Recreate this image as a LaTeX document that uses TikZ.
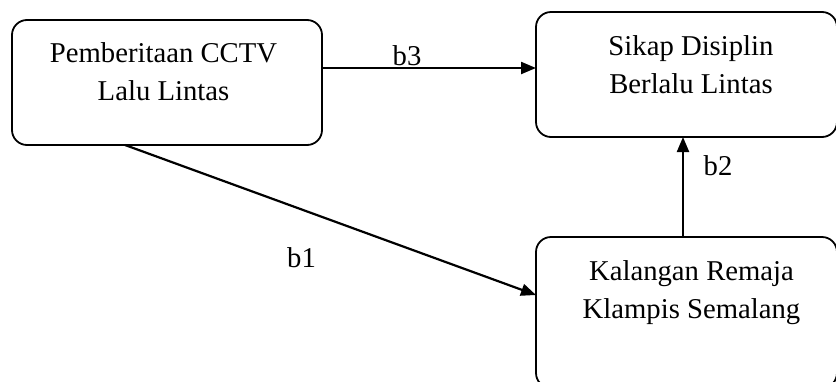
\documentclass[tikz,border=0pt]{standalone}
\usepackage{fontspec}
\setmainfont{Liberation Serif}
\usetikzlibrary{arrows.meta}
\begin{document}
\begin{tikzpicture}[x=1pt,y=-1pt,
  box/.style={draw,line width=1.8pt,rounded corners=15pt,inner sep=0pt,outer sep=0pt},
  txt/.style={align=center,inner sep=0pt,font=\fontsize{28.7}{38}\selectfont},
  lbl/.style={inner sep=0pt,font=\fontsize{28.7}{38}\selectfont},
  conn/.style={line width=2.2pt,-{Triangle[length=15pt,width=12pt]}}]
\clip (0,0) rectangle (836,381);
\useasboundingbox (0,0) rectangle (836,381);
\node[box,minimum width=310pt,minimum height=125pt] (A) at (167,82.5) {};
\node[box,minimum width=301pt,minimum height=125pt] (B) at (686.5,74.5) {};
\node[box,minimum width=301pt,minimum height=151pt] (C) at (686.5,312.5) {};
\node[txt,anchor=north] (tA) at (163.5,42.4) {Pemberitaan CCTV\\Lalu Lintas};
\node[txt,anchor=north] (tB) at (691,35.4) {Sikap Disiplin\\Berlalu Lintas};
\node[txt,anchor=north] (tC) at (691.5,260.4) {Kalangan Remaja\\Klampis Semalang};
\draw[conn] ([yshift=14.5pt]A.east) -- ([yshift=6.5pt]B.west);
\draw[conn] ([xshift=-42pt]A.south) -- ([yshift=17.5pt]C.west);
\draw[conn] ([xshift=-3.5pt]C.north) -- ([xshift=-3.5pt]B.south);
\node[lbl,anchor=base] (l3) at (407,65) {b3};
\node[lbl,anchor=base] (l1) at (301.5,267) {b1};
\node[lbl,anchor=base] (l2) at (718,175) {b2};
\end{tikzpicture}
\end{document}
